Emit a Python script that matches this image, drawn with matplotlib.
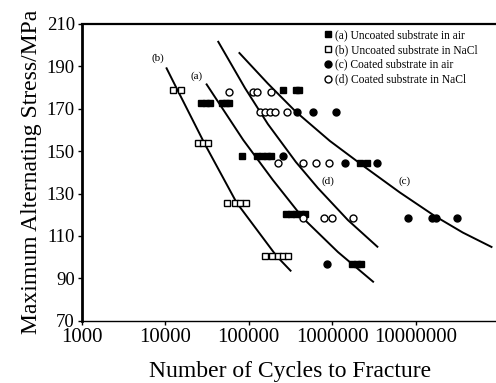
import matplotlib
matplotlib.use("Agg")
import matplotlib.pyplot as plt
from matplotlib.lines import Line2D

plt.rcParams['font.family'] = ['Liberation Serif', 'DejaVu Serif']

# measured points (cycles, stress MPa)
a_cycles = [259000, 366000, 404000,
            27200, 30800, 34900, 47900, 53500, 58100,
            82400, 126000, 145000, 166000, 186000,
            2150000, 2590000,
            280000, 321000, 369000, 424000, 473000,
            1730000, 1980000, 2210000]
a_stress = [178.9, 178.9, 178.9,
            172.5, 172.5, 172.5, 172.5, 172.5, 172.5,
            147.7, 147.7, 147.7, 147.7, 147.7,
            144.3, 144.3,
            120.3, 120.3, 120.3, 120.3, 120.3,
            96.6, 96.6, 96.6]

b_cycles = [12300, 15500,
            24900, 28600, 32800,
            55000, 69200, 79400, 93300,
            157000, 188000, 226000, 259000, 298000]
b_stress = [179, 179,
            153.7, 153.7, 153.7,
            125.7, 125.7, 125.7, 125.7,
            100.5, 100.5, 100.5, 100.5, 100.5]

c_cycles = [382000, 583000, 1100000,
            259000,
            1420000, 3410000,
            8150000, 15600000, 17800000, 31000000,
            873000]
c_stress = [168.6, 168.6, 168.6,
            147.7,
            144.3, 144.3,
            118.3, 118.3, 118.3, 118.3,
            96.6]

d_cycles = [58100, 112000, 125000, 183000,
            136000, 157000, 180000, 207000, 285000,
            226000, 451000, 640000, 916000,
            444000, 798000, 986000, 1790000]
d_stress = [178, 178, 178, 178,
            168.6, 168.6, 168.6, 168.6, 168.6,
            144.3, 144.3, 144.3, 144.3,
            118.3, 118.3, 118.3, 118.3]

# fitted curves
b_fit_n = [10400, 13700, 30000, 71800, 216000, 318000]
b_fit_s = [189.1, 179.7, 153.2, 125.7, 100.5, 93.6]
a_fit_n = [31400, 86100, 195000, 451000, 1175000, 3100000]
a_fit_s = [181.5, 155.3, 136.4, 118.3, 102.4, 88.4]
d_fit_n = [43300, 90400, 170000, 368000, 676000, 1545000, 3490000]
d_fit_s = [201.6, 179.8, 162.8, 144.9, 132.6, 117.5, 104.9]
c_fit_n = [77600, 170000, 368000, 942000, 2470000, 6490000, 17000000, 36800000, 81300000]
c_fit_s = [196.3, 181.9, 168.6, 154.8, 142.5, 130.5, 119.4, 111.6, 104.8]

curve_labels = {'(b)': (8270, 194.1), '(a)': (23800, 185.5),
                '(d)': (880000, 135.9), '(c)': (7300000, 135.6)}

legend_labels = ['(a) Uncoated substrate in air', '(b) Uncoated substrate in NaCl',
                 '(c) Coated substrate in air', '(d) Coated substrate in NaCl']

fig = plt.figure(figsize=(4.96, 3.83), dpi=100)
ax = fig.add_axes([81.7 / 496, 1 - 320.7 / 383, (499 - 81.7) / 496, (320.7 - 24) / 383])

for n, s in [(b_fit_n, b_fit_s), (a_fit_n, a_fit_s), (d_fit_n, d_fit_s), (c_fit_n, c_fit_s)]:
    ax.plot(n, s, color='black', lw=1.4, zorder=2, solid_joinstyle='round')

ms = 5
ax.plot(a_cycles, a_stress, 's', ms=ms, mfc='black', mec='black', zorder=3)
ax.plot(b_cycles, b_stress, 's', ms=ms, mfc='white', mec='black', mew=1, zorder=3)
ax.plot(c_cycles, c_stress, 'o', ms=ms, mfc='black', mec='black', zorder=3)
ax.plot(d_cycles, d_stress, 'o', ms=ms, mfc='white', mec='black', mew=1, zorder=3)

for txt, (x, y) in curve_labels.items():
    ax.text(x, y, txt, fontsize=8, ha='center', va='center', zorder=4,
            bbox=dict(facecolor='white', edgecolor='none', pad=0.5))

ax.set_xscale('log')
ax.set_xlim(1000, 1e8)
ax.set_ylim(70, 210)
ax.set_yticks(range(70, 211, 20))
ax.set_xticks([1000, 10000, 100000, 1000000, 10000000])
ax.set_xticklabels(['1000', '10000', '100000', '1000000', '10000000'])
ax.minorticks_off()
ax.tick_params(axis='both', direction='out', length=3, width=1, pad=2)
ax.tick_params(axis='x', labelsize=15, pad=2)
ax.tick_params(axis='y', labelsize=13.5)

ax.spines['right'].set_visible(False)
ax.spines['left'].set_linewidth(2)
ax.spines['top'].set_linewidth(1.6)
ax.spines['bottom'].set_linewidth(1)

ax.set_xlabel('Number of Cycles to Fracture', fontsize=17, labelpad=10)
ax.set_ylabel('Maximum Alternating Stress/MPa', fontsize=17, labelpad=3)

handles = [Line2D([], [], ls='none', marker='s', ms=ms, mfc='black', mec='black'),
           Line2D([], [], ls='none', marker='s', ms=ms, mfc='white', mec='black'),
           Line2D([], [], ls='none', marker='o', ms=ms, mfc='black', mec='black'),
           Line2D([], [], ls='none', marker='o', ms=ms, mfc='white', mec='black')]
ax.legend(handles, legend_labels, loc='upper left', bbox_to_anchor=(325 / 496, 1 - 29 / 383),
          bbox_transform=fig.transFigure, frameon=False, fontsize=8.3, borderpad=0,
          handlelength=0.6, handletextpad=0.25, labelspacing=0.25, borderaxespad=0)

fig.savefig('out.png', dpi=100)
